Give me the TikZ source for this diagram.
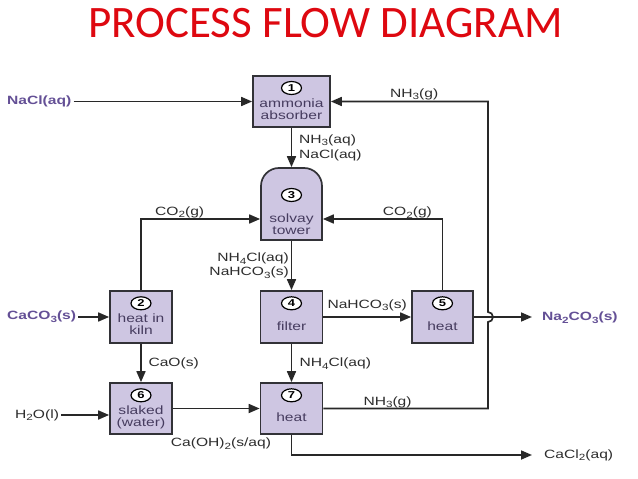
\documentclass[tikz,border=0pt]{standalone}
\usepackage{fontspec}
\setmainfont{Liberation Sans}
\newfontfamily\labfont[FakeStretch=1.3]{Liberation Sans}
\newfontfamily\titlefont{Carlito}
\usetikzlibrary{arrows.meta,shapes.geometric}
\definecolor{boxfill}{RGB}{206,198,226}
\definecolor{boxline}{RGB}{50,50,55}
\definecolor{boxtext}{RGB}{70,60,95}
\definecolor{labcol}{RGB}{45,45,45}
\definecolor{linecol}{RGB}{40,40,40}
\definecolor{purp}{RGB}{100,80,150}
\definecolor{titlered}{RGB}{222,8,16}
\newcommand\chsub[1]{\raisebox{-0.22em}{\fontsize{9}{9}\selectfont #1}}
\begin{document}
\begin{tikzpicture}[x=1pt,y=-1pt,
  lbl/.style={font={\labfont\fontsize{12}{14}\selectfont}, text=labcol, inner sep=0pt, anchor=base west},
  inlbl/.style={font={\labfont\bfseries\fontsize{12}{14}\selectfont}, text=purp, inner sep=2pt, anchor=west},
  box/.style={draw=boxline, line width=1.7pt, fill=boxfill, minimum width=62pt, minimum height=52pt, inner sep=0pt},
  num/.style={ellipse, draw=black, fill=white, line width=1.2pt, minimum width=20pt, minimum height=13pt, inner sep=0pt, font={\labfont\bfseries\fontsize{10}{10}\selectfont}},
  boxtxt/.style={font={\labfont\fontsize{12}{14}\selectfont}, text=boxtext, anchor=base, inner sep=0pt},
  arr/.style={draw=linecol, line width=1.7pt, -{Triangle[length=11pt,width=9pt]}},
  conn/.style={draw=linecol, line width=1.7pt}]
\fill[white] (0,0) rectangle (638,479);
\useasboundingbox (0,0) rectangle (638,479);

% title
\node[font={\titlefont\fontsize{45}{50}\selectfont}, text=titlered, anchor=base, inner sep=0pt] (title) at (325.5,37) {PROCESS FLOW DIAGRAM};

% boxes
\node[box, minimum width=77pt, minimum height=51pt] (b1) at (291.5,101.5) {};
\node[minimum width=61pt, minimum height=72pt, inner sep=0pt, outer sep=0.85pt] (b3) at (291.5,204) {};
\draw[draw=boxline, line width=1.7pt, fill=boxfill] (261,240) -- (261,186) arc[start angle=180,end angle=270,radius=18] -- (304,168) arc[start angle=270,end angle=360,radius=18] -- (322,240) -- cycle;
\node[box] (b2) at (141,317) {};
\node[box] (b4) at (291.5,317) {};
\node[box, minimum width=61pt] (b5) at (442.5,317) {};
\node[box, minimum height=51pt] (b6) at (141,408.5) {};
\node[box, minimum height=51pt] (b7) at (291.5,408.5) {};

% box contents
\node[num] (n1) at (291.5,88) {1};
\node[boxtxt] (t1a) at (291.5,107) {ammonia};
\node[boxtxt] (t1b) at (291.5,119) {absorber};
\node[num] (n3) at (291.5,195) {3};
\node[boxtxt] (t3a) at (291.5,222.3) {solvay};
\node[boxtxt] (t3b) at (291.5,234) {tower};
\node[num] (n2) at (141,303.3) {2};
\node[boxtxt] (t2a) at (141,322.3) {heat in};
\node[boxtxt] (t2b) at (141,334) {kiln};
\node[num] (n4) at (291.5,303.3) {4};
\node[boxtxt] (t4) at (291.5,330) {filter};
\node[num] (n5) at (442.5,303.3) {5};
\node[boxtxt] (t5) at (442.5,330) {heat};
\node[num] (n6) at (141,395.3) {6};
\node[boxtxt] (t6a) at (141,414) {slaked};
\node[boxtxt] (t6b) at (141,426.7) {(water)};
\node[num] (n7) at (291.5,395.3) {7};
\node[boxtxt] (t7) at (291.5,421.7) {heat};

% inputs / outputs
\node[inlbl] (nacl) at (5,101.5) {NaCl(aq)};
\node[inlbl] (caco3) at (5,317) {CaCO\chsub{3}(s)};
\node[lbl, anchor=west, inner sep=2pt] (h2o) at (13,415) {H\chsub{2}O(l)};
\node[inlbl] (na2co3) at (540,318) {Na\chsub{2}CO\chsub{3}(s)};
\node[lbl, anchor=west, inner sep=2pt] (cacl2) at (542,455) {CaCl\chsub{2}(aq)};
\coordinate (natip) at (532,317);
\coordinate (catip) at (532,455);
\coordinate (hopb) at (488,322);

% connector labels
\node[lbl] (l1) at (390,97.3) {NH\chsub{3}(g)};
\node[lbl] (l2) at (299,143.3) {NH\chsub{3}(aq)};
\node[lbl] (l3) at (299,158.3) {NaCl(aq)};
\node[lbl] (l4) at (155,215) {CO\chsub{2}(g)};
\node[lbl] (l5) at (382.7,215.7) {CO\chsub{2}(g)};
\node[lbl, anchor=base east] (l6) at (289,261.5) {NH\chsub{4}Cl(aq)};
\node[lbl, anchor=base east] (l7) at (289,275.5) {NaHCO\chsub{3}(s)};
\node[lbl] (l8) at (327.3,308.3) {NaHCO\chsub{3}(s)};
\node[lbl] (l9) at (148.3,366.7) {CaO(s)};
\node[lbl] (l10) at (299.3,366.7) {NH\chsub{4}Cl(aq)};
\node[lbl] (l11) at (363.3,405) {NH\chsub{3}(g)};
\node[lbl] (l12) at (170.7,446.7) {Ca(OH)\chsub{2}(s/aq)};

% connectors
\draw[arr] (nacl) -- (b1);
\draw[arr] (b1) -- (b3);
\draw[arr] (b2.north) |- ([yshift=-15pt]b3.west);
\draw[arr] (b5.north) |- ([yshift=-15pt]b3.east);
\draw[arr] (b3.south) -- (b4.north);
\draw[arr] (caco3) -- (b2);
\draw[arr] (b4) -- (b5);
\draw[arr] (b5) -- (natip);
\draw[arr] (b2) -- (b6);
\draw[arr] (b4) -- (b7);
\draw[arr] (h2o) -- (h2o -| b6.west);
\draw[arr] (b6) -- (b7);
\draw[arr] (b7.east) -| (hopb) arc[start angle=90,end angle=-90,radius=5] |- (b1.east);
\draw[arr] (b7.south) |- (catip);
\end{tikzpicture}
\end{document}
